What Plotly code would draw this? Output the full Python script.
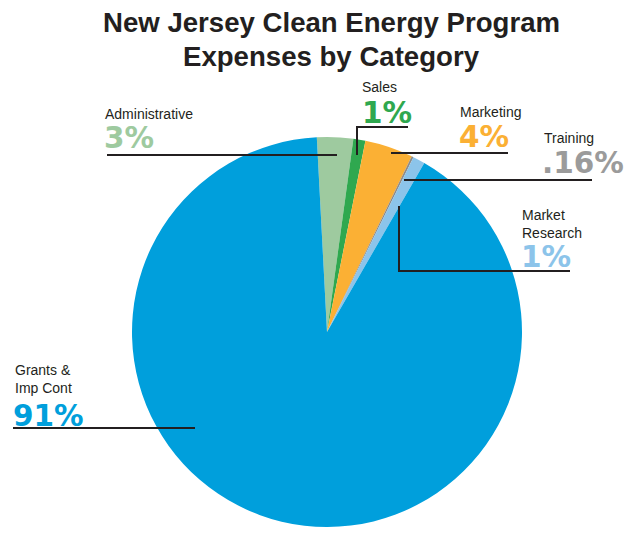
import plotly.graph_objects as go

# ---- data ----
categories = ["Administrative", "Sales", "Marketing", "Training", "Market Research", "Grants & Imp Cont"]
values = [3, 1, 4, 0.16, 1, 91]
pct_labels = ["3%", "1%", "4%", ".16%", "1%", "91%"]
name_labels = ["Administrative", "Sales", "Marketing", "Training", "Market<br>Research", "Grants &<br>Imp Cont"]
colors = ["#9ECA9F", "#2FA84F", "#FBB034", "#8E8A86", "#8CC4EA", "#009FDC"]
pct_colors = ["#9ECA9F", "#2FA84F", "#FBB034", "#9B9B9B", "#8CC4EA", "#009FDC"]
title_lines = ["New Jersey Clean Energy Program", "Expenses by Category"]

W, H = 626, 534
def px(x): return x / W
def py(y): return 1 - y / H

# pie geometry (pixels)
cx, cy, R = 327, 332, 195

fig = go.Figure(go.Pie(
    labels=categories, values=values, sort=False, direction="clockwise",
    rotation=-3, textinfo="none", hoverinfo="label+percent",
    marker=dict(colors=colors, line=dict(width=0)),
    domain=dict(x=[px(cx - R), px(cx + R)], y=[py(cy + R), py(cy - R)]),
    showlegend=False,
))

LBL = dict(family="Liberation Sans, Arial, sans-serif", size=14, color="#231F20")
PCT = dict(family="DejaVu Sans, sans-serif", size=29.5)

ann = []
for i, t in enumerate(title_lines):
    ann.append(dict(x=px(331), y=py(23 + 33 * i), text="<b>%s</b>" % t, showarrow=False,
                    xanchor="center", yanchor="middle",
                    font=dict(family="Liberation Sans, Arial, sans-serif", size=27.6, color="#231F20")))

# label layout: (name x, name block centre y, pct x, pct y)
label_layout = [
    (103, 114, 102, 137.5),
    (360, 87, 360, 113),
    (458, 112, 457, 136.5),
    (542, 138, 540, 163),
    (520, 224, 519, 256.5),
    (13, 379, 11, 416),
]
for i, (nx, ny, pxx, pyy) in enumerate(label_layout):
    ann.append(dict(x=px(nx), y=py(ny), text=name_labels[i], showarrow=False, xanchor="left",
                    yanchor="middle", align="left", font=LBL))
    ann.append(dict(x=px(pxx), y=py(pyy), text="<b>%s</b>" % pct_labels[i], showarrow=False,
                    xanchor="left", yanchor="middle", font=dict(PCT, color=pct_colors[i])))

leaders = [
    [(107, 155), (337, 155)],
    [(408, 127), (357, 127), (357, 155)],
    [(391, 153), (508, 153)],
    [(404, 180), (592, 180)],
    [(399, 206), (399, 271), (570, 271)],
    [(13, 428), (195, 428)],
]
shapes = []
for pts in leaders:
    path = "M " + " L ".join("%f,%f" % (px(x), py(y)) for x, y in pts)
    shapes.append(dict(type="path", xref="paper", yref="paper", path=path,
                       line=dict(color="#231F20", width=2)))

fig.update_layout(width=W, height=H, autosize=False, margin=dict(l=0, r=0, t=0, b=0),
                  paper_bgcolor="white", plot_bgcolor="white",
                  annotations=ann, shapes=shapes)
fig.write_html("out.html", config={"displayModeBar": False},
               post_script="document.body.style.margin='0';")
